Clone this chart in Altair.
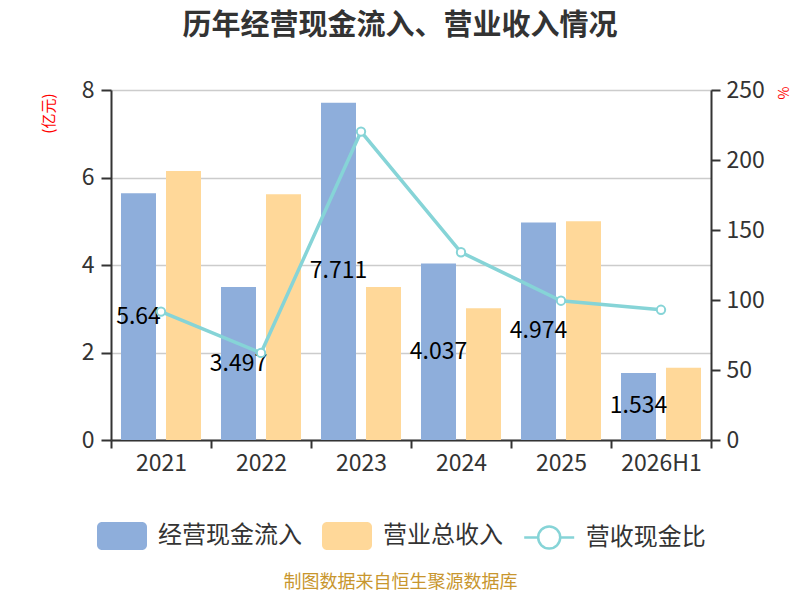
import altair as alt
import pandas as pd

years = ["2021", "2022", "2023", "2024", "2025", "2026H1"]
cash_inflow = [5.64, 3.497, 7.711, 4.037, 4.974, 1.534]
revenue = [6.15, 5.62, 3.50, 3.01, 5.00, 1.65]
ratio = [91.7, 62.2, 220.3, 134.1, 99.5, 93.0]
series_names = ["经营现金流入", "营业总收入"]
ratio_name = "营收现金比"
left_ticks = [0, 2, 4, 6, 8]
right_ticks = [0, 50, 100, 150, 200, 250]

FONT = "Noto Sans CJK SC"
BLUE = "#8EAEDB"
ORANGE = "#FFD899"
TEAL = "#86D4D7"
DARK = "#333333"

bars_df = pd.DataFrame({
    "year": years * 2,
    "series": [series_names[0]] * len(years) + [series_names[1]] * len(years),
    "value": cash_inflow + revenue,
})
bars_df["mid"] = bars_df["value"] / 2
line_df = pd.DataFrame({"year": years, "ratio": ratio, "name": [ratio_name] * len(years)})

RECT_PATH = ("M-0.8,-0.56 H0.8 A0.2,0.2 0 0 1 1,-0.36 V0.36 A0.2,0.2 0 0 1 0.8,0.56 "
             "H-0.8 A0.2,0.2 0 0 1 -1,0.36 V-0.36 A0.2,0.2 0 0 1 -0.8,-0.56 Z")
LINE_PATH = ("M-1,0 H-0.44 M0.44,0 H1 M-0.44,0 A0.44,0.44 0 1 0 0.44,0 "
             "A0.44,0.44 0 1 0 -0.44,0")

x_axis = alt.Axis(
    title="制图数据来自恒生聚源数据库", titleFont=FONT, titleFontSize=18,
    titleColor="#C8962E", titleFontWeight="normal", titleX=289, titleY=142,
    titleAlign="center", titleBaseline="middle",
    labelAngle=0, labelFont=FONT, labelFontSize=23, labelColor=DARK, labelPadding=4,
    tickBand="extent", tickSize=8, tickColor=DARK, tickWidth=2,
    domainColor=DARK, domainWidth=2, grid=False,
)
x_enc = alt.X("year:N", sort=years, scale=alt.Scale(paddingInner=0, paddingOuter=0), axis=x_axis)
xoff = alt.XOffset("series:N", sort=series_names,
                   scale=alt.Scale(paddingInner=2 / 9, paddingOuter=2 / 9))

left_axis = alt.Axis(
    values=left_ticks, title="(亿元)", grid=True, gridColor="#cccccc", gridWidth=1.5,
    domainColor=DARK, domainWidth=2, tickColor=DARK, tickWidth=2, tickSize=10,
    labelFont=FONT, labelFontSize=23, labelColor=DARK, labelPadding=7,
    titleFont=FONT, titleFontSize=15, titleColor="red", titleFontWeight="normal",
    titleAngle=270, titleX=-63, titleY=3, titleAlign="right", titleBaseline="middle",
)
right_axis = alt.Axis(
    orient="right", values=right_ticks, title="%", grid=False,
    domainColor=DARK, domainWidth=2, tickColor=DARK, tickWidth=2, tickSize=9,
    labelFont=FONT, labelFontSize=23, labelColor=DARK, labelPadding=6,
    titleFont=FONT, titleFontSize=14, titleColor="red", titleFontWeight="normal",
    titleAngle=270, titleX=73, titleY=2.5, titleAlign="center", titleBaseline="middle",
)

bars = alt.Chart(bars_df).mark_bar().encode(
    x=x_enc,
    xOffset=xoff,
    y=alt.Y("value:Q", scale=alt.Scale(domain=[0, 8]), axis=left_axis),
    color=alt.Color(
        "series:N", sort=series_names,
        scale=alt.Scale(domain=series_names, range=[BLUE, ORANGE]),
        legend=alt.Legend(
            title=None, orient="none", legendX=-14, legendY=421, direction="horizontal",
            symbolType=RECT_PATH, symbolSize=2500, symbolStrokeWidth=0, symbolOpacity=1,
            labelFont=FONT, labelFontSize=24, labelColor=DARK, labelOffset=11,
            columnPadding=20, padding=0,
        ),
    ),
)

labels = alt.Chart(bars_df).transform_filter(
    alt.datum.series == series_names[0]
).mark_text(
    font=FONT, fontSize=23, color="black", baseline="middle", align="center"
).encode(
    x=x_enc,
    xOffset=xoff,
    y=alt.Y("mid:Q", scale=alt.Scale(domain=[0, 8]), axis=left_axis),
    text=alt.Text("value:Q"),
)

line = alt.Chart(line_df).mark_line(strokeWidth=3.5).encode(
    x=x_enc,
    y=alt.Y("ratio:Q", scale=alt.Scale(domain=[0, 250]), axis=right_axis),
    stroke=alt.Stroke(
        "name:N", scale=alt.Scale(domain=[ratio_name], range=[TEAL]),
        legend=alt.Legend(
            title=None, orient="none", legendX=411.7, legendY=421,
            symbolType=LINE_PATH, symbolSize=2500, symbolStrokeWidth=2.5,
            symbolFillColor="white", symbolOpacity=1,
            labelFont=FONT, labelFontSize=24, labelColor=DARK, labelOffset=10, padding=0,
        ),
    ),
)
points = alt.Chart(line_df).mark_point(
    filled=True, fill="white", stroke=TEAL, strokeWidth=2, size=70, opacity=1
).encode(
    x=x_enc,
    y=alt.Y("ratio:Q", scale=alt.Scale(domain=[0, 250]), axis=right_axis),
)

left = alt.layer(bars, labels)
right = alt.layer(line, points)

chart = alt.layer(left, right).resolve_scale(
    y="independent", color="independent"
).properties(
    width=600, height=350,
    title=alt.Title("历年经营现金流入、营业收入情况", font=FONT, fontSize=29,
                    fontWeight="bold", color=DARK, anchor="middle", dx=-11, offset=38),
    autosize=alt.AutoSizeParams(type="none"),
    padding={"left": 103, "top": 82, "right": 81, "bottom": 152},
).configure_view(strokeWidth=0).configure(background="white")

chart.save("out.html", embed_options={"renderer": "svg", "actions": False})
